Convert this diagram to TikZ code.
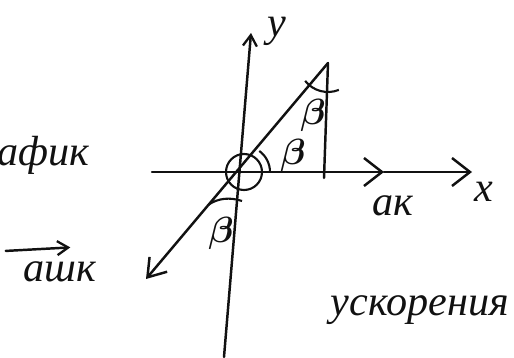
\documentclass[tikz,border=0pt]{standalone}
\usepackage{fontspec}
\setmainfont{Liberation Serif}
\usetikzlibrary{arrows.meta,positioning,calc}
\definecolor{Ink}{HTML}{111111}
\tikzset{
  ax/.style={line width=1.4pt,draw=Ink,line cap=round},
  arr/.style={ax,-{Straight Barb[length=3.6mm,width=5.6mm,line width=1.4pt]}},
  arrd/.style={ax,-{Straight Barb[length=3.4mm,width=4.6mm,line width=1.4pt]}},
  arrs/.style={ax,-{Straight Barb[length=2.2mm,width=2.8mm,line width=1.3pt]}},
  ang/.style={line width=1.2pt,draw=Ink},
  lbl/.style={font=\fontsize{24}{28}\selectfont\itshape,text=Ink,inner sep=0pt},
  glbl/.style={font=\fontsize{21}{25}\selectfont\boldmath,text=Ink,inner sep=0pt},
}
\begin{document}
\begin{tikzpicture}[x=0.02cm,y=0.02cm]
 \useasboundingbox (0,0) rectangle (514,-358);
 % axes
 \coordinate (orig) at (244,-172);
 \coordinate (ytop) at (251,-33);
 \coordinate (ybot) at (224,-357);
 \coordinate (xleft) at (152,-172);
 \coordinate (akend) at (384,-172);
 \coordinate (xend) at (472,-172);
 \coordinate (top) at (328,-63);
 \coordinate (foot) at (324,-178);
 \coordinate (tip) at (146,-279);
 \draw[arrs] (ybot) -- (ytop);
 \draw[arr] (xleft) -- (akend);
 \draw[arr] (akend) -- (xend);
 \draw[arrd] (top) -- (tip);
 \draw[ax] (top) -- (foot);
 \draw[ang] (orig) circle[radius=18];
 % angles
 \draw[ang] (orig) ++(0:26) arc[start angle=0,end angle=54,radius=26];
 \draw[ang] (top) ++(218:29) arc[start angle=218,end angle=292,radius=29];
 \draw[ang] (208,-205) .. controls (218,-198) and (230,-197) .. (242,-201);
 % labels
 \node[lbl] (ylab) at (277,-31) {y};
 \node[lbl] (xlab) at (484,-192) {x};
 \node[lbl] (aklab) at (393,-206) {ак};
 \node[glbl] (betaA) at (313,-115) {$\beta$};
 \node[glbl] (betaB) at (293,-155) {$\beta$};
 \node[glbl] (betaC) at (221,-233) {$\beta$};
 \node[lbl,anchor=west] (grafik) at (-3,-155) {афик};
 \node[lbl] (ashk) at (60,-272) {ашк};
 \draw[arrs] ([xshift=-10pt,yshift=6pt]ashk.north west) -- ([xshift=-15pt,yshift=8pt]ashk.north east);
 \node[lbl] (uskor) at (420,-310) {ускорения};
\end{tikzpicture}
\end{document}
